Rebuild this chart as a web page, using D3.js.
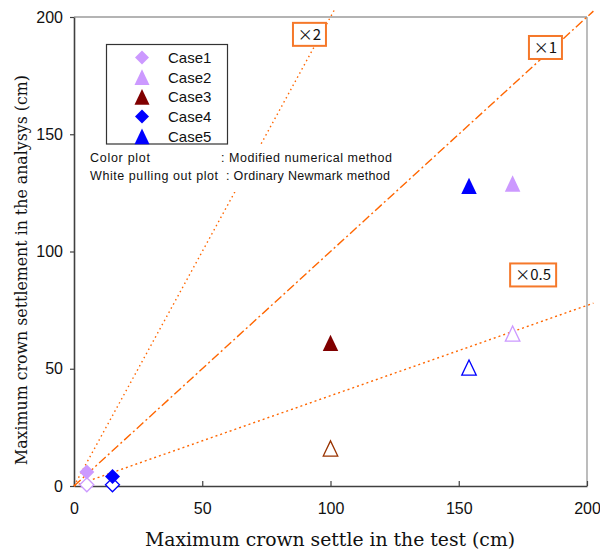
<!DOCTYPE html>
<html>
<head>
<meta charset="utf-8">
<script src="https://cdn.jsdelivr.net/npm/d3@7"></script>
<style>
html,body{margin:0;padding:0;background:#fff;}
svg{display:block;}
</style>
</head>
<body>
<svg id="chart" width="600" height="552"></svg>
<script>
// ---- data ----
const cases = ["Case1", "Case2", "Case3", "Case4", "Case5"];
const caseShapes = ["diamond", "triangle", "triangle", "diamond", "triangle"];
const caseColors = ["#cc99ff", "#cc99ff", "#800000", "#0000ff", "#0000ff"];
const openColors = ["#cc99ff", "#cc99ff", "#993300", "#0000ff", "#0000ff"];
const testValues = [5, 171, 100, 15, 154];          // x: maximum crown settlement in the test
const modifiedValues = [6, 129, 61, 4, 128];        // filled: modified numerical method
const ordinaryValues = [0.5, 65, 16, 0.5, 50.5];   // open: ordinary Newmark method
const ratioSlopes = [2, 1, 0.385];                  // slopes of the guide lines as drawn
const ratioLabels = ["×2", "×1", "×0.5"];
const ratioEnds = [102, 202.5, 202.5];              // x value where each guide line stops
const ratioLabelAnchors = [[91.8, 192.6], [183.8, 187], [179, 90]];
const tickValues = [0, 50, 100, 150, 200];
const noteLines = [["Color plot", ": Modified numerical method"], ["White pulling out plot", ": Ordinary Newmark method"]];

// ---- layout ----
const svg = d3.select("#chart");
const x = d3.scaleLinear().domain([0, 200]).range([74, 587]);
const y = d3.scaleLinear().domain([0, 200]).range([486, 17]);
const orange = "#ff6600";

// custom symbols
const diamondType = {draw(ctx, s){ const r = s/2; ctx.moveTo(0,-r); ctx.lineTo(r,0); ctx.lineTo(0,r); ctx.lineTo(-r,0); ctx.closePath(); }};
const triType = {draw(ctx, s){ const w = s/2, h = s*1.05/2; ctx.moveTo(0,-h); ctx.lineTo(w,h); ctx.lineTo(-w,h); ctx.closePath(); }};
const symFor = (shape, size) => d3.symbol().type(shape === "diamond" ? diamondType : triType).size(size)();

// frame (top & right)
svg.append("line").attr("x1", x(0)).attr("x2", x(200)).attr("y1", y(200)).attr("y2", y(200))
  .attr("stroke", "#b4b4b4").attr("stroke-width", 2);
svg.append("line").attr("x1", x(200)).attr("x2", x(200)).attr("y1", y(200)).attr("y2", y(0))
  .attr("stroke", "#909090").attr("stroke-width", 1.2);

// axes
const xAxis = svg.append("g").attr("transform", `translate(0,${y(0)})`)
  .call(d3.axisBottom(x).tickValues(tickValues).tickSize(-5).tickPadding(17).tickSizeOuter(0));
const yAxis = svg.append("g").attr("transform", `translate(${x(0)},0)`)
  .call(d3.axisLeft(y).tickValues(tickValues).tickSize(4).tickPadding(7).tickSizeOuter(0));
[xAxis, yAxis].forEach(g => {
  g.select(".domain").attr("stroke", "#404040").attr("stroke-width", 1.6);
  g.selectAll(".tick line").attr("stroke", "#404040").attr("stroke-width", 1.2);
  g.selectAll(".tick text").attr("font-family", "Liberation Sans, Arial, sans-serif")
    .attr("font-size", 16).attr("fill", "#111");
});

// reference lines
const dashes = ["1.5,3.2", "9,3,2,3", "2,3"];
ratioSlopes.forEach((k, i) => {
  svg.append("line")
    .attr("x1", x(0)).attr("y1", y(0))
    .attr("x2", x(ratioEnds[i])).attr("y2", y(ratioEnds[i] * k))
    .attr("stroke", orange).attr("stroke-width", 1.4)
    .attr("stroke-dasharray", dashes[i]);
});

// note block with white background
const notes = svg.append("g");
notes.append("rect").attr("x", 84).attr("y", 144).attr("width", 312).attr("height", 48).attr("fill", "#fff");
const noteX = [[90, 221], [90, 226]];
const noteLen = [[60, 171], [128, 164]];
noteLines.forEach((ln, i) => {
  ln.forEach((part, j) => {
    notes.append("text").attr("x", noteX[i][j]).attr("y", 162 + i * 17.5)
      .attr("font-family", "Liberation Sans, Arial, sans-serif").attr("font-size", 12.5).attr("fill", "#111")
      .attr("textLength", noteLen[i][j]).attr("lengthAdjust", "spacing")
      .text(part);
  });
});

// legend
const lg = svg.append("g");
lg.append("rect").attr("x", 106.5).attr("y", 44.5).attr("width", 121).attr("height", 99.5)
  .attr("fill", "#fff").attr("stroke", "#333").attr("stroke-width", 1.2);
cases.forEach((c, i) => {
  const cy = 57.5 + i * 19.7;
  lg.append("path").attr("d", symFor(caseShapes[i], caseShapes[i] === "diamond" ? 14 : 15))
    .attr("transform", `translate(142,${cy})`).attr("fill", caseColors[i]);
  lg.append("text").attr("x", 168).attr("y", cy + 5.5)
    .attr("font-family", "Liberation Sans, Arial, sans-serif").attr("font-size", 15).attr("fill", "#111")
    .text(c);
});

// ratio label boxes
const boxW = [33, 33, 46];
ratioLabels.forEach((lab, i) => {
  const cx = x(ratioLabelAnchors[i][0]), cy = y(ratioLabelAnchors[i][1]);
  svg.append("rect").attr("x", cx - boxW[i] / 2).attr("y", cy - 11.5).attr("width", boxW[i]).attr("height", 23)
    .attr("fill", "#fff").attr("stroke", "#f5782a").attr("stroke-width", 2);
  svg.append("text").attr("x", cx).attr("y", cy + 5.5).attr("text-anchor", "middle")
    .attr("font-family", "Noto Sans CJK JP, Liberation Sans, sans-serif").attr("font-size", 15).attr("fill", "#111")
    .text(lab);
});

// markers: open (ordinary) then filled (modified)
cases.forEach((c, i) => {
  const size = caseShapes[i] === "diamond" ? 15 : 15.5;
  svg.append("path").attr("d", symFor(caseShapes[i], size - 1))
    .attr("transform", `translate(${x(testValues[i])},${y(ordinaryValues[i])})`)
    .attr("fill", "#fff").attr("stroke", openColors[i]).attr("stroke-width", 1.3);
});
cases.forEach((c, i) => {
  const size = caseShapes[i] === "diamond" ? 15 : 15.5;
  svg.append("path").attr("d", symFor(caseShapes[i], size))
    .attr("transform", `translate(${x(testValues[i])},${y(modifiedValues[i])})`)
    .attr("fill", caseColors[i]);
});

// axis titles
svg.append("text").attr("x", 330).attr("y", 546).attr("text-anchor", "middle")
  .attr("font-family", "DejaVu Serif, serif").attr("font-size", 18).attr("fill", "#111")
  .attr("textLength", 370).attr("lengthAdjust", "spacingAndGlyphs")
  .text("Maximum crown settle in the test (cm)");
svg.append("text").attr("transform", "translate(27,270) rotate(-90)").attr("text-anchor", "middle")
  .attr("font-family", "DejaVu Serif, serif").attr("font-size", 17).attr("fill", "#111")
  .attr("textLength", 390).attr("lengthAdjust", "spacingAndGlyphs")
  .text("Maximum crown settlement in the analysys (cm)");
</script>
</body>
</html>
